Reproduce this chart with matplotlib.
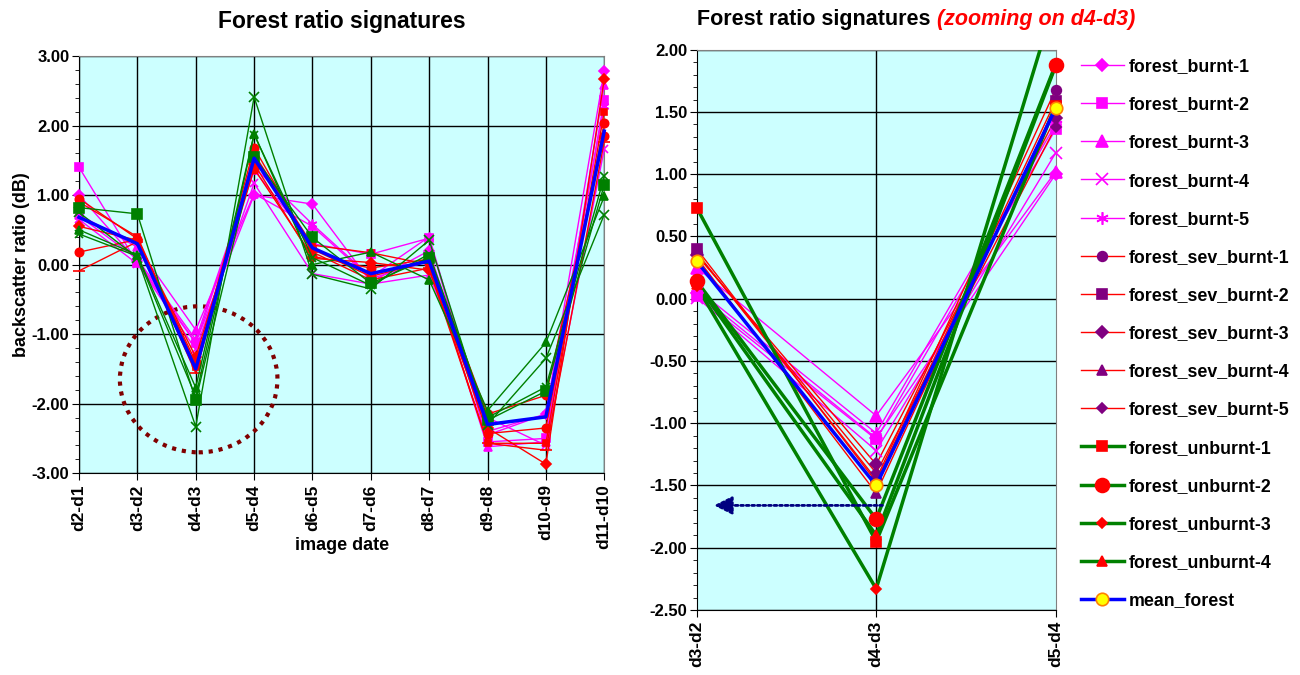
import matplotlib
matplotlib.use("Agg")
import matplotlib.pyplot as plt
import numpy as np
from matplotlib.lines import Line2D
from matplotlib.patches import Ellipse

plt.rcParams['font.family'] = ['Liberation Sans', 'DejaVu Sans']
plt.rcParams['font.weight'] = 'bold'

dates = ['d2-d1', 'd3-d2', 'd4-d3', 'd5-d4', 'd6-d5', 'd7-d6',
         'd8-d7', 'd9-d8', 'd10-d9', 'd11-d10']

# ratio values (dB) per series, one value per image-date pair
forest_burnt_1 = [1.00, 0.05, -1.12, 1.00, 0.87, -0.25, 0.20, -2.40, -2.15, 2.78]
forest_burnt_2 = [1.40, 0.02, -1.13, 1.36, 0.30, 0.15, 0.38, -2.55, -2.50, 2.37]
forest_burnt_3 = [0.72, 0.25, -0.94, 1.02, 0.55, -0.20, 0.05, -2.62, -2.55, 2.58]
forest_burnt_4 = [0.65, 0.01, -1.22, 1.17, -0.13, -0.28, -0.15, -2.20, -2.60, 1.66]
forest_burnt_5 = [0.70, 0.08, -1.08, 1.40, 0.58, -0.18, 0.40, -2.45, -2.15, 2.28]
forest_sev_burnt_1 = [0.95, 0.37, -1.45, 1.68, 0.22, -0.17, 0.05, -2.43, -2.35, 2.04]
forest_sev_burnt_2 = [0.90, 0.40, -1.47, 1.59, 0.28, 0.17, 0.00, -2.57, -2.57, 2.20]
forest_sev_burnt_3 = [0.55, 0.35, -1.33, 1.45, 0.09, 0.03, -0.08, -2.35, -2.87, 2.67]
forest_sev_burnt_4 = [-0.09, 0.33, -1.56, 1.55, 0.18, -0.22, -0.05, -2.57, -2.67, 1.77]
forest_sev_burnt_5 = [0.18, 0.36, -1.40, 1.38, 0.12, -0.05, 0.08, -2.15, -1.88, 1.85]
forest_unburnt_1 = [0.82, 0.73, -1.95, 1.55, 0.39, -0.27, 0.10, -2.24, -1.82, 1.15]
forest_unburnt_2 = [0.50, 0.14, -1.77, 1.88, 0.00, 0.18, -0.22, -2.10, -1.12, 0.98]
forest_unburnt_3 = [0.75, 0.10, -2.33, 2.41, -0.14, -0.35, 0.35, -2.30, -1.35, 0.72]
forest_unburnt_4 = [0.44, 0.12, -1.90, 1.87, 0.10, -0.30, 0.15, -2.20, -1.76, 1.27]
mean_forest = [0.68, 0.30, -1.50, 1.53, 0.24, -0.13, 0.05, -2.30, -2.19, 1.92]

series_names = ['forest_burnt-1', 'forest_burnt-2', 'forest_burnt-3', 'forest_burnt-4',
                'forest_burnt-5', 'forest_sev_burnt-1', 'forest_sev_burnt-2',
                'forest_sev_burnt-3', 'forest_sev_burnt-4', 'forest_sev_burnt-5',
                'forest_unburnt-1', 'forest_unburnt-2', 'forest_unburnt-3',
                'forest_unburnt-4', 'mean_forest']
series_values = [forest_burnt_1, forest_burnt_2, forest_burnt_3, forest_burnt_4,
                 forest_burnt_5, forest_sev_burnt_1, forest_sev_burnt_2,
                 forest_sev_burnt_3, forest_sev_burnt_4, forest_sev_burnt_5,
                 forest_unburnt_1, forest_unburnt_2, forest_unburnt_3,
                 forest_unburnt_4, mean_forest]

MAG, RED, GRN, BLU, PUR = '#FF00FF', '#FF0000', '#008000', '#0000FF', '#800080'
BG = '#CCFFFF'
ASTER = (6, 2, 0)

# left panel styles: (line colour, marker, marker colour, line width, marker size)
left_style = [(MAG, 'D', MAG, 1, 5), (MAG, 's', MAG, 1, 6), (MAG, '^', MAG, 1, 6),
              (MAG, 'x', MAG, 1, 6), (MAG, ASTER, MAG, 1, 7),
              (RED, 'o', RED, 1, 6), (RED, 's', RED, 1, 5), (RED, 'D', RED, 1, 5),
              (RED, '_', RED, 1, 8), (RED, 'o', RED, 1, 6),
              (GRN, 's', GRN, 1, 7), (GRN, '^', GRN, 1, 6), (GRN, 'x', GRN, 1, 7),
              (GRN, 'x', GRN, 1, 6), (BLU, None, BLU, 2.5, 0)]
# right panel styles
right_style = [(MAG, 'D', MAG, 1, 6), (MAG, 's', MAG, 1, 7), (MAG, '^', MAG, 1, 8),
               (MAG, 'x', MAG, 1, 8), (MAG, ASTER, MAG, 1, 9),
               (RED, 'o', PUR, 1, 7), (RED, 's', PUR, 1, 7), (RED, 'D', PUR, 1, 6),
               (RED, '^', PUR, 1, 7), (RED, 'D', PUR, 1, 5),
               (GRN, 's', RED, 2.5, 7), (GRN, 'o', RED, 2.5, 10), (GRN, 'D', RED, 2.5, 5),
               (GRN, '^', RED, 2.5, 7), (BLU, 'o', '#FFFF00', 2.5, 9)]

fig = plt.figure(figsize=(13, 6.75), dpi=100)

# ---------------- left panel ----------------
ax1 = fig.add_axes([0.0608, 0.299, 0.404, 0.618])
ax1.set_facecolor(BG)
x = np.arange(len(dates))
for vals, (lc, mk, mc, lw, ms) in zip(series_values, left_style):
    ax1.plot(x, vals, color=lc, lw=lw, marker=mk, ms=ms, mfc=mc, mec=mc,
             mew=1.2, clip_on=False, zorder=3 if lc != BLU else 4)

ax1.set_xlim(0, len(dates) - 1)
ax1.set_ylim(-3, 3)
ax1.set_xticks(x)
ax1.set_xticklabels(dates, rotation=90, fontsize=12.5, fontweight='bold')
ax1.set_yticks(np.arange(-3, 3.01, 1))
ax1.set_yticklabels([f'{v:.2f}' for v in np.arange(-3, 3.01, 1)], fontsize=12, fontweight='bold')
ax1.set_yticks(np.arange(-3, 3.01, 0.2), minor=True)
ax1.tick_params(axis='y', which='major', length=5, direction='out', pad=2)
ax1.tick_params(axis='y', which='minor', length=3, direction='out')
ax1.tick_params(axis='x', length=5, direction='out', pad=3)
ax1.grid(True, which='major', color='black', lw=1, zorder=1)
ax1.set_axisbelow(True)
for s in ['top', 'right']:
    ax1.spines[s].set_color('#808080')
ax1.set_title('Forest ratio signatures', fontsize=16.5, fontweight='bold', pad=20)
ax1.set_ylabel('backscatter ratio (dB)', fontsize=13, fontweight='bold', labelpad=1)
fig.text(342 / 1300, 1 - 545 / 675, 'image date', fontsize=13, fontweight='bold',
         ha='center', va='center')
ax1.add_patch(Ellipse((2.05, -1.65), 2.7, 2.1, fill=False, ec='#800000', lw=3,
                      ls=(0, (1, 1.4)), zorder=2))

# ---------------- right panel ----------------
ax2 = fig.add_axes([0.536, 0.0963, 0.276, 0.830])
ax2.set_facecolor(BG)
zoom_dates = dates[1:4]
xz = np.arange(len(zoom_dates))
ymin, ymax = -2.5, 2.0
handles = []
for vals, (lc, mk, mc, lw, ms), name in zip(series_values, right_style, series_names):
    v = np.array(vals[1:4])
    me = '#FF8000' if mc == '#FFFF00' else mc
    z = 4 if lc == BLU else 3
    ax2.plot(xz, v, color=lc, lw=lw, zorder=z)
    vin = np.where((v >= ymin) & (v <= ymax), v, np.nan)
    ax2.plot(xz, vin, ls='none', marker=mk, ms=ms, mfc=mc, mec=me, mew=1.2,
             clip_on=False, zorder=z + 0.5)
    handles.append(Line2D([], [], color=lc, lw=lw, marker=mk, ms=ms, mfc=mc,
                          mec=me, mew=1.2, label=name))

ax2.set_xlim(0, 2)
ax2.set_ylim(ymin, ymax)
ax2.set_xticks(xz)
ax2.set_xticklabels(zoom_dates, rotation=90, fontsize=12.5, fontweight='bold')
yt = np.arange(-2.5, 2.01, 0.5)
ax2.set_yticks(yt)
ax2.set_yticklabels([f'{v:.2f}' for v in yt], fontsize=12, fontweight='bold')
ax2.set_yticks(np.arange(-2.5, 2.01, 0.1), minor=True)
ax2.tick_params(axis='y', which='major', length=5, direction='out', pad=2)
ax2.tick_params(axis='y', which='minor', length=3, direction='out')
ax2.tick_params(axis='x', length=5, direction='out', pad=3)
ax2.grid(True, axis='y', color='black', lw=1, zorder=1)
ax2.axvline(1, color='black', lw=1, zorder=1)
ax2.set_axisbelow(True)
for s in ['top', 'right']:
    ax2.spines[s].set_color('#808080')
ax2.annotate('', xy=(0.08, -1.66), xytext=(1.05, -1.66),
             arrowprops=dict(arrowstyle='-|>,head_length=1.1,head_width=0.55',
                             color='#000080', lw=2, ls=(0, (1, 1))), zorder=6)

ax2.legend(handles=handles, loc='upper left', bbox_to_anchor=(1074 / 1300, 1 - 51 / 675),
           bbox_transform=fig.transFigure, frameon=False,
           prop={'weight': 'bold', 'size': 12.8}, labelspacing=1.19,
           handlelength=2.4, handletextpad=0.3, borderaxespad=0)

# two-part title for the zoom panel
t1 = fig.text(697 / 1300, 1 - 20 / 675, 'Forest ratio signatures ', fontsize=15.5,
              fontweight='bold', ha='left', va='center')
fig.canvas.draw()
bb = t1.get_window_extent()
fig.text(bb.x1 / fig.bbox.width, 1 - 20 / 675, '(zooming on d4-d3)', fontsize=15.5,
         fontweight='bold', fontstyle='italic', color='#FF0000', ha='left', va='center')

fig.savefig('out.png', dpi=100)
